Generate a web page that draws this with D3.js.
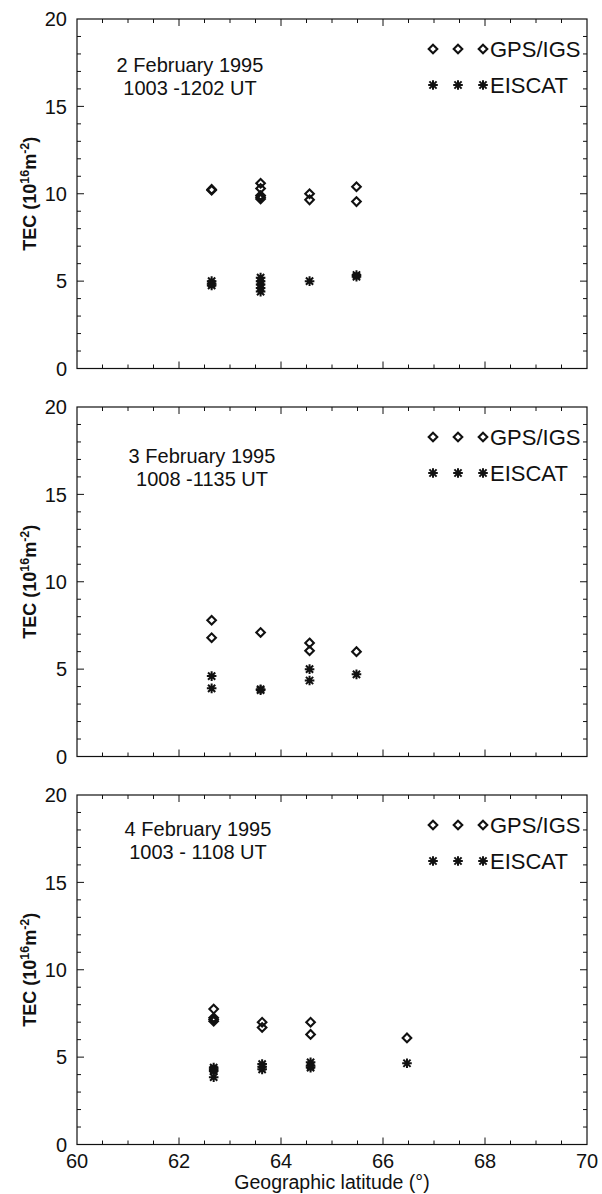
<!DOCTYPE html>
<html>
<head>
<meta charset="utf-8">
<script src="https://cdn.jsdelivr.net/npm/d3@7"></script>
<style>
  body { margin: 0; background: #fff; }
  svg { display: block; font-family: "Liberation Sans", Arial, sans-serif; }
</style>
</head>
<body>
<div id="chart"></div>
<script>
// 2 February 1995
var feb2GpsLat = [62.64, 62.64, 63.6, 63.6, 63.6, 63.6, 63.6, 64.56, 64.56, 65.48, 65.48];
var feb2GpsTec = [10.25, 10.2, 10.6, 10.3, 9.9, 9.8, 9.7, 10.0, 9.65, 10.4, 9.55];
var feb2EisLat = [62.64, 62.64, 62.64, 63.6, 63.6, 63.6, 63.6, 63.6, 64.56, 65.48, 65.48];
var feb2EisTec = [5.0, 4.85, 4.75, 5.2, 5.0, 4.8, 4.6, 4.4, 5.0, 5.35, 5.25];

// 3 February 1995
var feb3GpsLat = [62.64, 62.64, 63.6, 64.56, 64.56, 65.48];
var feb3GpsTec = [7.8, 6.8, 7.1, 6.5, 6.05, 6.0];
var feb3EisLat = [62.64, 62.64, 63.6, 63.6, 64.56, 64.56, 65.48];
var feb3EisTec = [4.6, 3.9, 3.85, 3.8, 5.0, 4.35, 4.7];

// 4 February 1995
var feb4GpsLat = [62.68, 62.68, 62.68, 62.68, 63.63, 63.63, 64.58, 64.58, 66.47];
var feb4GpsTec = [7.75, 7.25, 7.15, 7.05, 7.0, 6.7, 7.0, 6.3, 6.1];
var feb4EisLat = [62.68, 62.68, 62.68, 62.68, 63.63, 63.63, 63.63, 64.58, 64.58, 64.58, 66.47];
var feb4EisTec = [4.4, 4.3, 4.2, 3.85, 4.6, 4.45, 4.3, 4.7, 4.5, 4.4, 4.65];

var xTicks = [60, 62, 64, 66, 68, 70];
var yTicks = [0, 5, 10, 15, 20];
var seriesNames = ["GPS/IGS", "EISCAT"];
var dateLabels = ["2 February 1995", "3 February 1995", "4 February 1995"];
var timeLabels = ["1003 -1202 UT", "1008 -1135 UT", "1003 - 1108 UT"];

function zip(lat, tec) {
  return lat.map(function(d, i) { return {lat: d, tec: tec[i]}; });
}

var panels = [
  {gps: zip(feb2GpsLat, feb2GpsTec), eis: zip(feb2EisLat, feb2EisTec), top: 19, textX: 190, textY: 53},
  {gps: zip(feb3GpsLat, feb3GpsTec), eis: zip(feb3EisLat, feb3EisTec), top: 407, textX: 202, textY: 56},
  {gps: zip(feb4GpsLat, feb4GpsTec), eis: zip(feb4EisLat, feb4EisTec), top: 795, textX: 198, textY: 41}
];

var W = 602, H = 1194;
var left = 77, right = 587, ph = 349.5;

var svg = d3.select("#chart").append("svg").attr("width", W).attr("height", H);

var x = d3.scaleLinear().domain([60, 70]).range([left, right]);

var ink = "#111";

function diamond(sel) {
  sel.attr("d", "M0,-4.3L4.3,0L0,4.3L-4.3,0Z")
    .attr("fill", "none").attr("stroke", ink).attr("stroke-width", 2.1);
}
function asterisk(sel) {
  var r = 4.8, s = 3.6;
  sel.attr("d", "M0,-" + r + "V" + r + "M-" + r + ",0H" + r +
           "M-" + s + ",-" + s + "L" + s + "," + s + "M-" + s + "," + s + "L" + s + ",-" + s)
    .attr("fill", "none").attr("stroke", ink).attr("stroke-width", 2);
}

panels.forEach(function(p, i) {
  var y = d3.scaleLinear().domain([0, 20]).range([p.top + ph, p.top]);
  var g = svg.append("g");
  var bottom = p.top + ph;

  // ticks (inward on all four sides)
  var xMinor = d3.range(60.5, 70, 0.5);
  var yMinor = d3.range(1, 20, 1);
  xMinor.forEach(function(v) {
    var len = (v % 2 === 0) ? 7 : 4;
    g.append("line").attr("x1", x(v)).attr("x2", x(v)).attr("y1", bottom).attr("y2", bottom - len)
      .attr("stroke", ink).attr("stroke-width", 1);
    g.append("line").attr("x1", x(v)).attr("x2", x(v)).attr("y1", p.top).attr("y2", p.top + len)
      .attr("stroke", ink).attr("stroke-width", 1);
  });
  yMinor.forEach(function(v) {
    var len = (v % 5 === 0) ? 7 : 4;
    g.append("line").attr("x1", left).attr("x2", left + len).attr("y1", y(v)).attr("y2", y(v))
      .attr("stroke", ink).attr("stroke-width", 1);
    g.append("line").attr("x1", right).attr("x2", right - len).attr("y1", y(v)).attr("y2", y(v))
      .attr("stroke", ink).attr("stroke-width", 1);
  });

  g.append("rect").attr("x", left).attr("y", p.top).attr("width", right - left).attr("height", ph)
    .attr("fill", "none").attr("stroke", ink).attr("stroke-width", 1.2);

  // y tick labels
  g.selectAll("text.ytick").data(yTicks).enter().append("text")
    .attr("class", "ytick")
    .attr("x", 67).attr("y", function(d) { return y(d); })
    .attr("dy", "0.36em").attr("text-anchor", "end")
    .attr("font-size", 20).attr("fill", ink)
    .text(function(d) { return d; });

  // y axis title
  var yt = g.append("text")
    .attr("transform", "translate(36," + (p.top + ph / 2) + ") rotate(-90)")
    .attr("text-anchor", "middle").attr("font-size", 18).attr("font-weight", "bold").attr("fill", ink);
  yt.append("tspan").text("TEC (10");
  yt.append("tspan").attr("font-size", 12.5).attr("dy", -7).text("16");
  yt.append("tspan").attr("dy", 7).text("m");
  yt.append("tspan").attr("font-size", 12.5).attr("dy", -7).text("-2");
  yt.append("tspan").attr("dy", 7).text(")");

  // date / time annotation
  g.append("text").attr("x", p.textX).attr("y", p.top + p.textY)
    .attr("text-anchor", "middle").attr("font-size", 20).attr("fill", ink).text(dateLabels[i]);
  g.append("text").attr("x", p.textX).attr("y", p.top + p.textY + 23)
    .attr("text-anchor", "middle").attr("font-size", 20).attr("fill", ink).text(timeLabels[i]);

  // legend
  var legX = [433, 458, 483];
  [0, 1].forEach(function(k) {
    var ly = p.top + 30 + k * 36;
    legX.forEach(function(lx) {
      g.append("path").attr("transform", "translate(" + lx + "," + ly + ")").call(k === 0 ? diamond : asterisk);
    });
    g.append("text").attr("x", 490).attr("y", ly).attr("dy", "0.36em")
      .attr("font-size", 22).attr("fill", ink).text(seriesNames[k]);
  });

  // data
  g.selectAll("path.gps").data(p.gps).enter().append("path")
    .attr("class", "gps")
    .attr("transform", function(d) { return "translate(" + x(d.lat) + "," + y(d.tec) + ")"; })
    .call(diamond);
  g.selectAll("path.eis").data(p.eis).enter().append("path")
    .attr("class", "eis")
    .attr("transform", function(d) { return "translate(" + x(d.lat) + "," + y(d.tec) + ")"; })
    .call(asterisk);

  // x labels only on the bottom panel
  if (i === panels.length - 1) {
    g.selectAll("text.xtick").data(xTicks).enter().append("text")
      .attr("class", "xtick")
      .attr("x", function(d) { return x(d); }).attr("y", bottom + 23)
      .attr("text-anchor", "middle").attr("font-size", 20).attr("fill", ink)
      .text(function(d) { return d; });
    g.append("text").attr("x", (left + right) / 2).attr("y", bottom + 44)
      .attr("text-anchor", "middle").attr("font-size", 19.5).attr("fill", ink)
      .text("Geographic latitude (°)");
  }
});
</script>
</body>
</html>
